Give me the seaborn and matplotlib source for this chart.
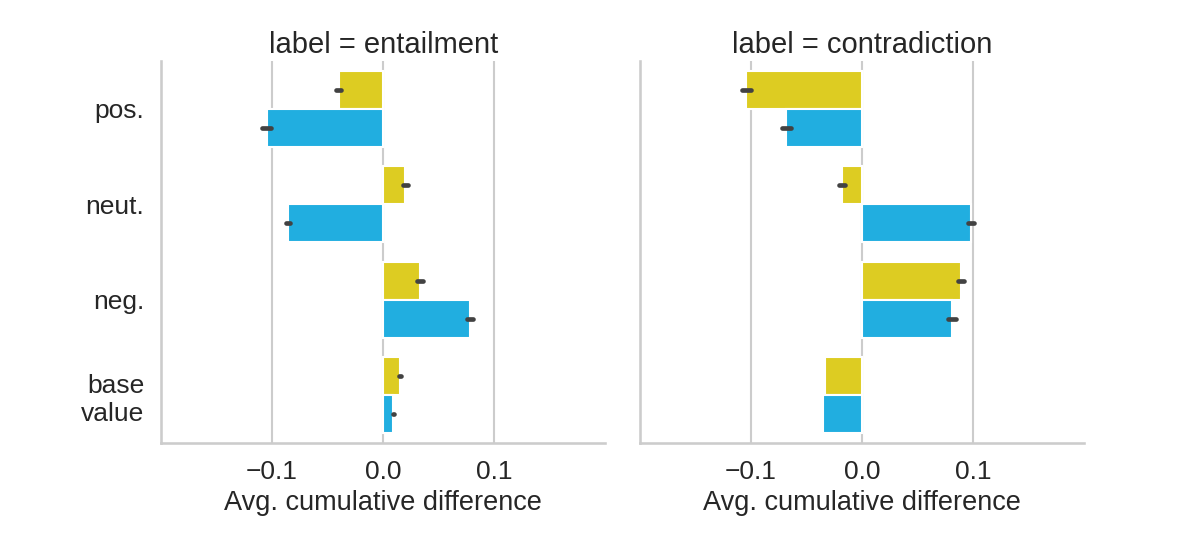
import numpy as np
import pandas as pd
import seaborn as sns
import matplotlib.pyplot as plt

sns.set_theme(style="whitegrid", context="talk")
plt.rcParams['font.family'] = ['Liberation Sans', 'DejaVu Sans']
plt.rcParams.update({"axes.labelsize": 19.5,
                     "xtick.labelsize": 19, "ytick.labelsize": 19})

# categories / panels / hue groups
features = ["pos.", "neut.", "neg.", "base\nvalue"]
labels = ["entailment", "contradiction"]
groups = ["premise", "hypothesis"]

# mean values (per panel, per group, per feature)
ent_premise = [-0.040, 0.020, 0.033, 0.015]
ent_hypothesis = [-0.105, -0.086, 0.078, 0.009]
con_premise = [-0.104, -0.018, 0.089, -0.033]
con_hypothesis = [-0.068, 0.098, 0.081, -0.035]

# half-width of the interval around each mean
ent_premise_err = [0.0022, 0.0022, 0.0027, 0.0008]
ent_hypothesis_err = [0.0042, 0.0018, 0.003, 0.0005]
con_premise_err = [0.0042, 0.0027, 0.0027, 0.0]
con_hypothesis_err = [0.0042, 0.0027, 0.0038, 0.0002]

colors = ["#ddcc22", "#21aee0"]

rows = []
series = {
    ("entailment", "premise"): (ent_premise, ent_premise_err),
    ("entailment", "hypothesis"): (ent_hypothesis, ent_hypothesis_err),
    ("contradiction", "premise"): (con_premise, con_premise_err),
    ("contradiction", "hypothesis"): (con_hypothesis, con_hypothesis_err),
}
for (lab, grp), (means, errs) in series.items():
    for feat, m, e in zip(features, means, errs):
        # two observations -> mean m, 100% percentile interval [m-e, m+e]
        rows.append({"label": lab, "feature": feat, "group": grp, "value": m - e})
        rows.append({"label": lab, "feature": feat, "group": grp, "value": m + e})
df = pd.DataFrame(rows)

g = sns.catplot(data=df, x="value", y="feature", hue="group", col="label",
                col_order=labels, order=features, hue_order=groups,
                kind="bar", palette=colors, saturation=1,
                errorbar=("pi", 100), legend=False, height=4.5, aspect=1.1)
g.set(xlim=(-0.2, 0.2), xticks=[-0.1, 0.0, 0.1])
g.set_axis_labels("Avg. cumulative difference", "")
g.set_titles("label = {col_name}", size=21)
g.axes[0, 0].tick_params(axis="y", pad=3)

g.figure.set_size_inches(11.96, 5.48)
g.figure.subplots_adjust(left=161/1196, right=1084/1196, bottom=1-443/548,
                         top=1-61/548, wspace=0.077)
g.figure.savefig("out.png", dpi=100)
